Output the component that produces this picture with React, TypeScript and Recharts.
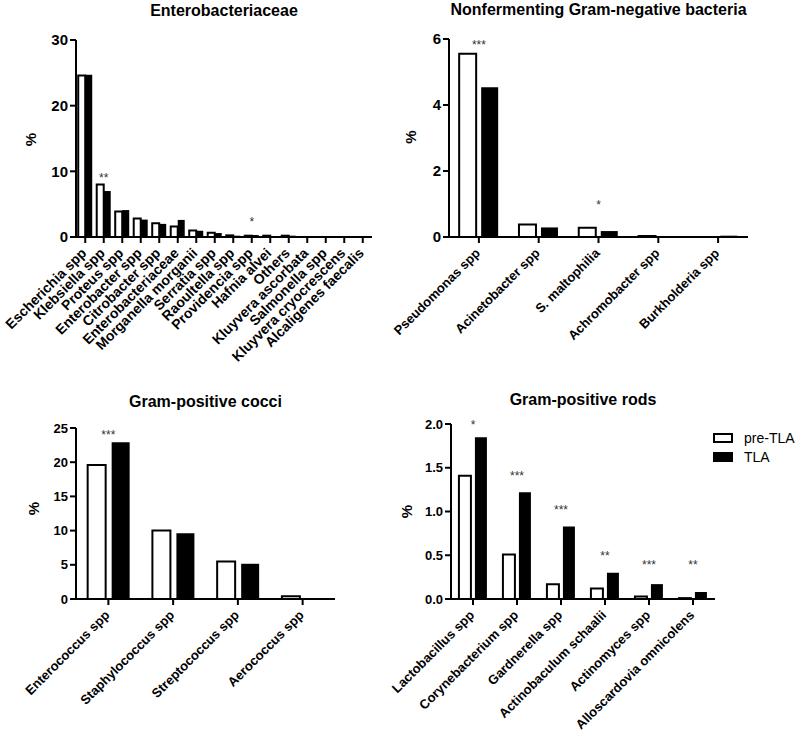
import { Bar, BarChart, ReferenceDot, XAxis, YAxis } from 'recharts';

const FONT = '"Liberation Sans", Arial, Helvetica, sans-serif';

const seriesNames = ['pre-TLA', 'TLA'];

// Enterobacteriaceae
const enteroCategories = [
  'Escherichia spp', 'Klebsiella spp', 'Proteus spp', 'Enterobacter spp', 'Citrobacter spp',
  'Enterobacteriaceae', 'Morganella morganii', 'Serratia spp', 'Raoultella spp', 'Providencia spp',
  'Hafnia alvei', 'Others', 'Kluyvera ascorbata', 'Salmonella spp', 'Kluyvera cryocrescens',
  'Alcaligenes faecalis'
];
const enteroPre = [24.6, 8.0, 3.9, 2.8, 2.1, 1.6, 1.0, 0.65, 0.25, 0.2, 0.2, 0.2, 0, 0, 0, 0];
const enteroTla = [24.7, 7.0, 4.1, 2.65, 2.0, 2.6, 0.95, 0.6, 0.2, 0.3, 0.15, 0.2, 0, 0, 0, 0];
const enteroSigCats = ['Klebsiella spp', 'Providencia spp'];
const enteroSigMarks = ['**', '*'];
const enteroSigLevels = [9.4, 2.8];
const enteroTicks = [0, 10, 20, 30];

// Nonfermenting Gram-negative bacteria
const nonfermCategories = ['Pseudomonas spp', 'Acinetobacter spp', 'S. maltophilia', 'Achromobacter spp', 'Burkholderia spp'];
const nonfermPre = [5.55, 0.38, 0.28, 0.03, 0];
const nonfermTla = [4.54, 0.29, 0.18, 0.03, 0.04];
const nonfermSigCats = ['Pseudomonas spp', 'S. maltophilia'];
const nonfermSigMarks = ['***', '*'];
const nonfermSigLevels = [5.9, 1.06];
const nonfermTicks = [0, 2, 4, 6];

// Gram-positive cocci
const cocciCategories = ['Enterococcus spp', 'Staphylococcus spp', 'Streptococcus spp', 'Aerococcus spp'];
const cocciPre = [19.6, 10.0, 5.5, 0.4];
const cocciTla = [22.9, 9.6, 5.15, 0];
const cocciSigCats = ['Enterococcus spp'];
const cocciSigMarks = ['***'];
const cocciSigLevels = [24.4];
const cocciTicks = [0, 5, 10, 15, 20, 25];

// Gram-positive rods
const rodsCategories = [
  'Lactobacillus spp', 'Corynebacterium spp', 'Gardnerella spp',
  'Actinobaculum schaalii', 'Actinomyces spp', 'Alloscardovia omnicolens'
];
const rodsPre = [1.41, 0.51, 0.17, 0.12, 0.03, 0.01];
const rodsTla = [1.85, 1.22, 0.83, 0.3, 0.17, 0.08];
const rodsSigCats = rodsCategories;
const rodsSigMarks = ['*', '***', '***', '**', '***', '**'];
const rodsSigLevels = [2.02, 1.44, 1.05, 0.53, 0.42, 0.42];
const rodsTicks = [0, 0.5, 1.0, 1.5, 2.0];

type PanelProps = {
  title: string;
  categories: string[];
  pre: number[];
  tla: number[];
  sigCats: string[];
  sigMarks: string[];
  sigLevels: number[];
  ticks: number[];
  decimals: number;
  left: number;
  top: number;
  width: number;
  height: number;
  extraLeft: number;
  plotTop: number;
  yAxisWidth: number;
  rightMargin: number;
  xAxisHeight: number;
  catGap: string | number;
  barGap: number;
  xFont: number;
  yFont: number;
  titleTop: number;
  pctX: number;
  pctDy: number;
};

function XTick(props: any) {
  const { x, y, payload, fontSize } = props;
  return (
    <g transform={`translate(${x + 2},${y + 9})`}>
      <text
        x={0}
        y={0}
        textAnchor="end"
        transform="rotate(-45)"
        fontSize={fontSize}
        fontWeight="bold"
        fontFamily={FONT}
        fill="#000"
      >
        {payload.value}
      </text>
    </g>
  );
}

function Panel(p: PanelProps) {
  const rows = p.categories.map((name, i) => ({ name, pre: p.pre[i], tla: p.tla[i] }));
  const plotWidth = p.width - p.yAxisWidth - p.rightMargin;
  const axisStroke = { stroke: '#000', strokeWidth: 2 };
  const fullWidth = p.width + p.extraLeft;

  return (
    <div style={{ position: 'absolute', left: p.left - p.extraLeft, top: p.top, width: fullWidth, height: p.height }}>
      <div
        style={{
          position: 'absolute',
          left: p.extraLeft + p.yAxisWidth,
          top: p.titleTop,
          width: plotWidth,
          textAlign: 'center',
          fontFamily: FONT,
          fontWeight: 'bold',
          fontSize: 16,
          lineHeight: '16px',
          color: '#000'
        }}
      >
        {p.title}
      </div>
      <BarChart
        width={fullWidth}
        height={p.height}
        data={rows}
        margin={{ top: p.plotTop, right: p.rightMargin, left: p.extraLeft, bottom: 0 }}
        barCategoryGap={p.catGap}
        barGap={p.barGap}
      >
        <XAxis
          dataKey="name"
          interval={0}
          height={p.xAxisHeight}
          tickSize={6}
          axisLine={axisStroke}
          tickLine={axisStroke}
          tick={(t: any) => <XTick {...t} fontSize={p.xFont} />}
        />
        <YAxis
          width={p.yAxisWidth}
          domain={[p.ticks[0], p.ticks[p.ticks.length - 1]]}
          ticks={p.ticks}
          interval={0}
          tickSize={6}
          axisLine={axisStroke}
          tickLine={axisStroke}
          tickFormatter={(v: number) => v.toFixed(p.decimals)}
          tick={{ fill: '#000', fontSize: p.yFont, fontWeight: 'bold', fontFamily: FONT }}
          label={(lp: any) => {
            const vb = lp.viewBox;
            const cx = vb.x + p.pctX;
            const cy = vb.y + vb.height / 2 + p.pctDy;
            return (
              <text
                x={cx}
                y={cy}
                transform={`rotate(-90,${cx},${cy})`}
                textAnchor="middle"
                dominantBaseline="central"
                fontFamily={FONT}
                fontWeight="bold"
                fontSize={15}
                fill="#000"
              >
                %
              </text>
            );
          }}
        />
        <Bar dataKey="pre" name={seriesNames[0]} fill="#fff" stroke="#000" strokeWidth={2} isAnimationActive={false} />
        <Bar dataKey="tla" name={seriesNames[1]} fill="#000" isAnimationActive={false} />
        {p.sigCats.map((c, i) => (
          <ReferenceDot
            key={c}
            x={c}
            y={p.sigLevels[i]}
            r={0}
            ifOverflow="visible"
            shape={(s: any) => (
              <text x={s.cx} y={s.cy + 7} textAnchor="middle" fontSize={12} fontFamily={FONT} fill="#333">
                {p.sigMarks[i]}
              </text>
            )}
          />
        ))}
      </BarChart>
    </div>
  );
}

function Legend() {
  const items = [
    { name: seriesNames[0], fill: '#fff', top: 433 },
    { name: seriesNames[1], fill: '#000', top: 452 }
  ];
  return (
    <>
      {items.map((it) => (
        <div key={it.name} style={{ position: 'absolute', left: 713, top: it.top, height: 10 }}>
          <div
            style={{
              position: 'absolute',
              left: 0,
              top: 0,
              width: 16,
              height: 6,
              background: it.fill,
              border: '2px solid #000'
            }}
          />
          <div
            style={{
              position: 'absolute',
              left: 31,
              top: -3,
              fontFamily: FONT,
              fontSize: 14,
              lineHeight: '16px',
              whiteSpace: 'nowrap',
              color: '#000'
            }}
          >
            {it.name}
          </div>
        </div>
      ))}
    </>
  );
}

export default function App() {
  return (
    <div style={{ position: 'absolute', left: 0, top: 0, width: 798, height: 734, background: '#fff', overflow: 'hidden' }}>
      <Panel
        title="Enterobacteriaceae"
        categories={enteroCategories}
        pre={enteroPre}
        tla={enteroTla}
        sigCats={enteroSigCats}
        sigMarks={enteroSigMarks}
        sigLevels={enteroSigLevels}
        ticks={enteroTicks}
        decimals={0}
        left={0}
        top={0}
        width={400}
        height={380}
        extraLeft={0}
        plotTop={40}
        yAxisWidth={76}
        rightMargin={28}
        xAxisHeight={143}
        catGap="12%"
        barGap={0}
        xFont={14}
        yFont={15}
        titleTop={3}
        pctX={30}
        pctDy={1}
      />
      <Panel
        title="Nonfermenting Gram-negative bacteria"
        categories={nonfermCategories}
        pre={nonfermPre}
        tla={nonfermTla}
        sigCats={nonfermSigCats}
        sigMarks={nonfermSigMarks}
        sigLevels={nonfermSigLevels}
        ticks={nonfermTicks}
        decimals={0}
        left={400}
        top={0}
        width={398}
        height={380}
        extraLeft={70}
        plotTop={39}
        yAxisWidth={49}
        rightMargin={50}
        xAxisHeight={143}
        catGap="17%"
        barGap={5}
        xFont={13}
        yFont={15}
        titleTop={2}
        pctX={10}
        pctDy={-1}
      />
      <Panel
        title="Gram-positive cocci"
        categories={cocciCategories}
        pre={cocciPre}
        tla={cocciTla}
        sigCats={cocciSigCats}
        sigMarks={cocciSigMarks}
        sigLevels={cocciSigLevels}
        ticks={cocciTicks}
        decimals={0}
        left={0}
        top={380}
        width={400}
        height={354}
        extraLeft={0}
        plotTop={48}
        yAxisWidth={76}
        rightMargin={65}
        xAxisHeight={135}
        catGap="18%"
        barGap={6}
        xFont={13}
        yFont={13}
        titleTop={14}
        pctX={33}
        pctDy={-5}
      />
      <Panel
        title="Gram-positive rods"
        categories={rodsCategories}
        pre={rodsPre}
        tla={rodsTla}
        sigCats={rodsSigCats}
        sigMarks={rodsSigMarks}
        sigLevels={rodsSigLevels}
        ticks={rodsTicks}
        decimals={1}
        left={400}
        top={380}
        width={398}
        height={354}
        extraLeft={70}
        plotTop={44}
        yAxisWidth={51}
        rightMargin={83}
        xAxisHeight={135}
        catGap="18%"
        barGap={4}
        xFont={13}
        yFont={13}
        titleTop={11.5}
        pctX={6}
        pctDy={0}
      />
      <Legend />
    </div>
  );
}
